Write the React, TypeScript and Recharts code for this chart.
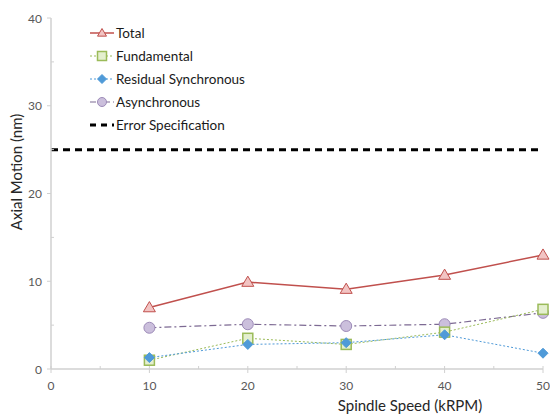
import React from "react";
import { LineChart, Line, XAxis, YAxis } from "recharts";

const speeds = [0, 10, 20, 30, 40, 50];
const total = [null, 7.0, 9.9, 9.1, 10.7, 13.0];
const fundamental = [null, 1.0, 3.5, 2.8, 4.2, 6.8];
const residual = [null, 1.3, 2.8, 3.0, 3.9, 1.8];
const asynchronous = [null, 4.7, 5.1, 4.9, 5.1, 6.4];
const errorSpec = [25, 25, 25, 25, 25, 25];
const xTicks = [0, 5, 10, 15, 20, 25, 30, 35, 40, 45, 50];
const yTicks = [0, 5, 10, 15, 20, 25, 30, 35, 40];

const data = speeds.map((s, i) => ({
  speed: s,
  total: total[i],
  fundamental: fundamental[i],
  residual: residual[i],
  asynchronous: asynchronous[i],
  spec: errorSpec[i],
}));

const FONT = "Lato, 'Open Sans', sans-serif";
const AXIS = "#d0d0d0";
const TICKTXT = "#595959";

const C_TOTAL = "#c0504d";
const C_FUND = "#9bbb59";
const C_RES = "#4f9ad8";
const C_ASYNC_LINE = "#7d6a93";

function Triangle({ cx, cy, s = 6 }: any) {
  return (
    <polygon
      points={`${cx},${cy - s} ${cx - s},${cy + s * 0.7} ${cx + s},${cy + s * 0.7}`}
      fill="#f2c4c3"
      stroke={C_TOTAL}
      strokeWidth={1}
    />
  );
}
function Square({ cx, cy, s = 5 }: any) {
  return (
    <rect x={cx - s} y={cy - s} width={2 * s} height={2 * s} fill="#e4efcf" stroke={C_FUND} strokeWidth={1.5} />
  );
}
function Diamond({ cx, cy, s = 5 }: any) {
  return (
    <polygon
      points={`${cx},${cy - s} ${cx + s},${cy} ${cx},${cy + s} ${cx - s},${cy}`}
      fill={C_RES}
      stroke={C_RES}
      strokeWidth={1}
    />
  );
}
function Circle({ cx, cy, s = 5.5 }: any) {
  return <circle cx={cx} cy={cy} r={s} fill="#cbbfdc" stroke="#9d8bb8" strokeWidth={1} />;
}

const mk = (Comp: any) => (props: any) => {
  const { cx, cy, value, index } = props;
  if (value === null || value === undefined || cx == null || cy == null) return <g key={index} />;
  return <Comp key={index} cx={cx} cy={cy} />;
};

// tick props: x,y are the text anchor (axis + tickSize 6 + tickMargin 2)
const XTick = (props: any) => {
  const { x, y, payload } = props;
  const v = payload.value;
  const major = v % 10 === 0;
  const ay = y - 8;
  return (
    <g>
      {major ? (
        <line x1={x} x2={x} y1={ay - 3} y2={ay + 4} stroke={AXIS} strokeWidth={1} />
      ) : (
        <line x1={x} x2={x} y1={ay - 3} y2={ay} stroke={AXIS} strokeWidth={1} />
      )}
      {major && (
        <text x={x} y={ay + 21} textAnchor="middle" fill={TICKTXT} fontSize={12} fontFamily={FONT}>
          {v}
        </text>
      )}
    </g>
  );
};

const YTick = (props: any) => {
  const { x, y, payload } = props;
  const v = payload.value;
  const major = v % 10 === 0;
  const ax = x + 8;
  return (
    <g>
      {major ? (
        <line x1={ax - 4} x2={ax} y1={y} y2={y} stroke={AXIS} strokeWidth={1} />
      ) : (
        <line x1={ax} x2={ax + 3} y1={y} y2={y} stroke={AXIS} strokeWidth={1} />
      )}
      {major && (
        <text x={ax - 9} y={y + 4.5} textAnchor="end" fill={TICKTXT} fontSize={12} fontFamily={FONT}>
          {v}
        </text>
      )}
    </g>
  );
};

const legendItems = [
  { name: "Total", color: C_TOTAL, dash: undefined, width: 1.5, M: Triangle },
  { name: "Fundamental", color: C_FUND, dash: "2 2", width: 1, M: Square },
  { name: "Residual Synchronous", color: C_RES, dash: "2 2", width: 1, M: Diamond },
  { name: "Asynchronous", color: C_ASYNC_LINE, dash: "6 3 2 3", width: 1.2, M: Circle },
  { name: "Error Specification", color: "#000", dash: "6 5", width: 3, M: null },
];

const LegendOverlay = () => (
  <svg
    width={220}
    height={130}
    style={{ position: "absolute", left: 88, top: 23, overflow: "visible" }}
  >
    {legendItems.map((it, i) => {
      const y = 10 + i * 23;
      return (
        <g key={it.name}>
          <line x1={2} x2={26} y1={y} y2={y} stroke={it.color} strokeWidth={it.width} strokeDasharray={it.dash} />
          {it.M && <it.M cx={14} cy={y} s={4.5} />}
          <text x={28} y={y + 5} fontSize={13.5} fill="#1a1a1a" fontFamily={FONT}>
            {it.name}
          </text>
        </g>
      );
    })}
  </svg>
);

export default function App() {
  return (
    <div style={{ position: "absolute", left: 0, top: 0, width: 550, height: 415, background: "#fff" }}>
      <LineChart width={550} height={415} data={data} margin={{ top: 18, right: 7, left: 0, bottom: 0 }}>
        <XAxis
          dataKey="speed"
          type="number"
          domain={[0, 50]}
          ticks={xTicks}
          interval={0}
          tick={<XTick />}
          tickLine={false}
          axisLine={{ stroke: AXIS, strokeWidth: 1.5 }}
          height={46}
          label={() => (
            <text x={410} y={411} textAnchor="middle" fontSize={15} fill="#262626" fontFamily={FONT}>
              Spindle Speed (kRPM)
            </text>
          )}
        />
        <YAxis
          type="number"
          domain={[0, 40]}
          ticks={yTicks}
          interval={0}
          tick={<YTick />}
          tickLine={false}
          axisLine={{ stroke: AXIS, strokeWidth: 1.5 }}
          width={51}
          label={() => (
            <text
              x={18}
              y={172}
              transform="rotate(-90 18 172)"
              textAnchor="middle"
              fontSize={15}
              fill="#262626"
              fontFamily={FONT}
              dominantBaseline="middle"
            >
              Axial Motion (nm)
            </text>
          )}
        />
        <Line
          dataKey="spec"
          stroke="#000"
          strokeWidth={3}
          strokeDasharray="7 5"
          dot={false}
          isAnimationActive={false}
          name="Error Specification"
        />
        <Line
          dataKey="asynchronous"
          stroke={C_ASYNC_LINE}
          strokeWidth={1.2}
          strokeDasharray="7 3 2 3"
          dot={mk(Circle)}
          isAnimationActive={false}
          name="Asynchronous"
        />
        <Line
          dataKey="fundamental"
          stroke={C_FUND}
          strokeWidth={1}
          strokeDasharray="2 2"
          dot={mk(Square)}
          isAnimationActive={false}
          name="Fundamental"
        />
        <Line
          dataKey="residual"
          stroke={C_RES}
          strokeWidth={1}
          strokeDasharray="2 2"
          dot={mk(Diamond)}
          isAnimationActive={false}
          name="Residual Synchronous"
        />
        <Line
          dataKey="total"
          stroke={C_TOTAL}
          strokeWidth={1.5}
          dot={mk(Triangle)}
          isAnimationActive={false}
          name="Total"
        />
      </LineChart>
      <LegendOverlay />
    </div>
  );
}
